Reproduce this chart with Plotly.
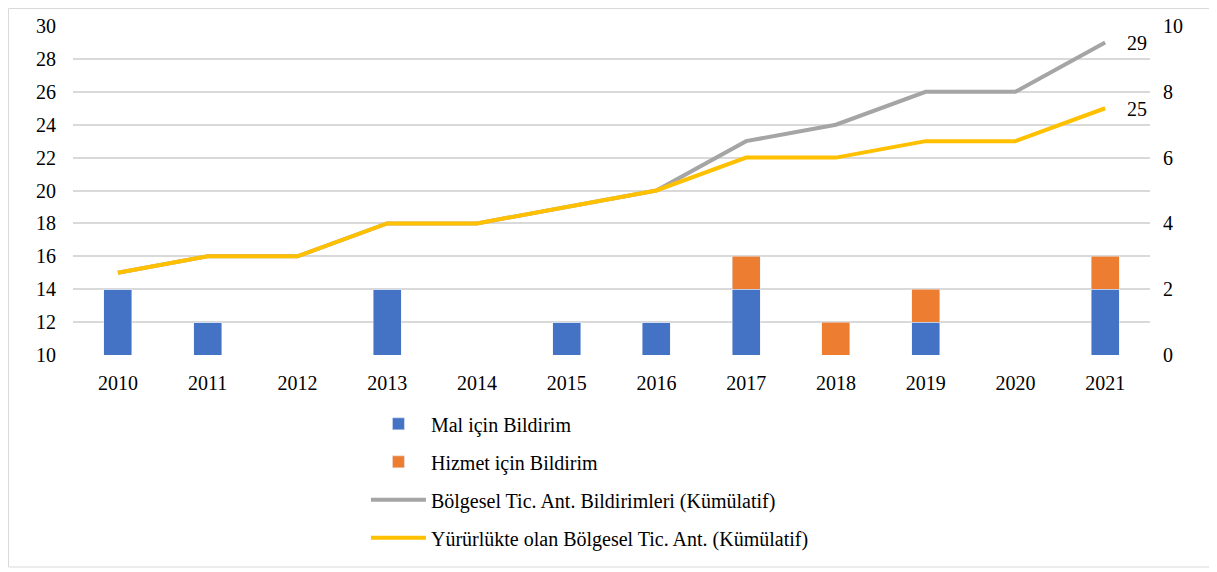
import plotly.graph_objects as go

years = ["2010", "2011", "2012", "2013", "2014", "2015", "2016", "2017", "2018", "2019", "2020", "2021"]
mal = [2, 1, 0, 2, 0, 1, 1, 2, 0, 1, 0, 2]
hizmet = [0, 0, 0, 0, 0, 0, 0, 1, 1, 1, 0, 1]
bildirim_kum = [15, 16, 16, 18, 18, 19, 20, 23, 24, 26, 26, 29]
yururluk_kum = [15, 16, 16, 18, 18, 19, 20, 22, 22, 23, 23, 25]

FONT = "Times New Roman, Liberation Serif, DejaVu Serif, serif"

fig = go.Figure()
fig.add_trace(go.Bar(x=years, y=mal, name="Mal için Bildirim", marker_color="#4472C4",
                     yaxis="y2", width=0.31, legendgroup="a"))
fig.add_trace(go.Bar(x=years, y=hizmet, name="Hizmet için Bildirim", marker_color="#ED7D31",
                     yaxis="y2", width=0.31, legendgroup="b"))
fig.add_trace(go.Scatter(x=years, y=bildirim_kum, name="Bölgesel Tic. Ant. Bildirimleri (Kümülatif)",
                         mode="lines", line=dict(color="#A5A5A5", width=4), legendgroup="c"))
fig.add_trace(go.Scatter(x=years, y=yururluk_kum, name="Yürürlükte olan Bölgesel Tic. Ant. (Kümülatif)",
                         mode="lines", line=dict(color="#FFC000", width=4), legendgroup="d"))

last = len(years) - 1
annotations = []
for vals in (bildirim_kum, yururluk_kum):
    annotations.append(dict(x=last, y=vals[-1], xref="x", yref="y", text=str(vals[-1]),
                            showarrow=False, xanchor="left", yanchor="middle", xshift=20, yshift=-1,
                            font=dict(size=20, family=FONT, color="#000000")))

fig.update_layout(
    width=1209, height=564,
    margin=dict(l=65, r=67, t=18, b=217, autoexpand=False),
    paper_bgcolor="white", plot_bgcolor="white",
    barmode="stack",
    font=dict(family=FONT, size=20, color="#000000"),
    xaxis=dict(type="category", showgrid=False, showline=False, ticks="", ticklabelstandoff=14,
               automargin=False),
    yaxis=dict(range=[10, 30], dtick=2, showgrid=True, gridcolor="#D9D9D9", gridwidth=1.5,
               zeroline=False, showline=False, ticks="", ticklabelstandoff=16, automargin=False),
    yaxis2=dict(range=[0, 10], dtick=2, overlaying="y", side="right", showgrid=False,
                zeroline=False, showline=False, ticks="", ticklabelstandoff=12, automargin=False),
    legend=dict(orientation="v", x=0.272, xanchor="left", y=-0.15, yanchor="top",
                traceorder="grouped", tracegroupgap=9, font=dict(size=20, family=FONT),
                itemwidth=55, bgcolor="rgba(0,0,0,0)"),
    annotations=annotations,
    showlegend=True,
    shapes=[dict(type="rect", xref="paper", yref="paper", x0=-0.0599, x1=1.0576, y0=-0.6444, y1=1.0532,
                 line=dict(color="#D9D9D9", width=1), fillcolor="rgba(0,0,0,0)", layer="below")],
)

fig.write_html("out.html")
